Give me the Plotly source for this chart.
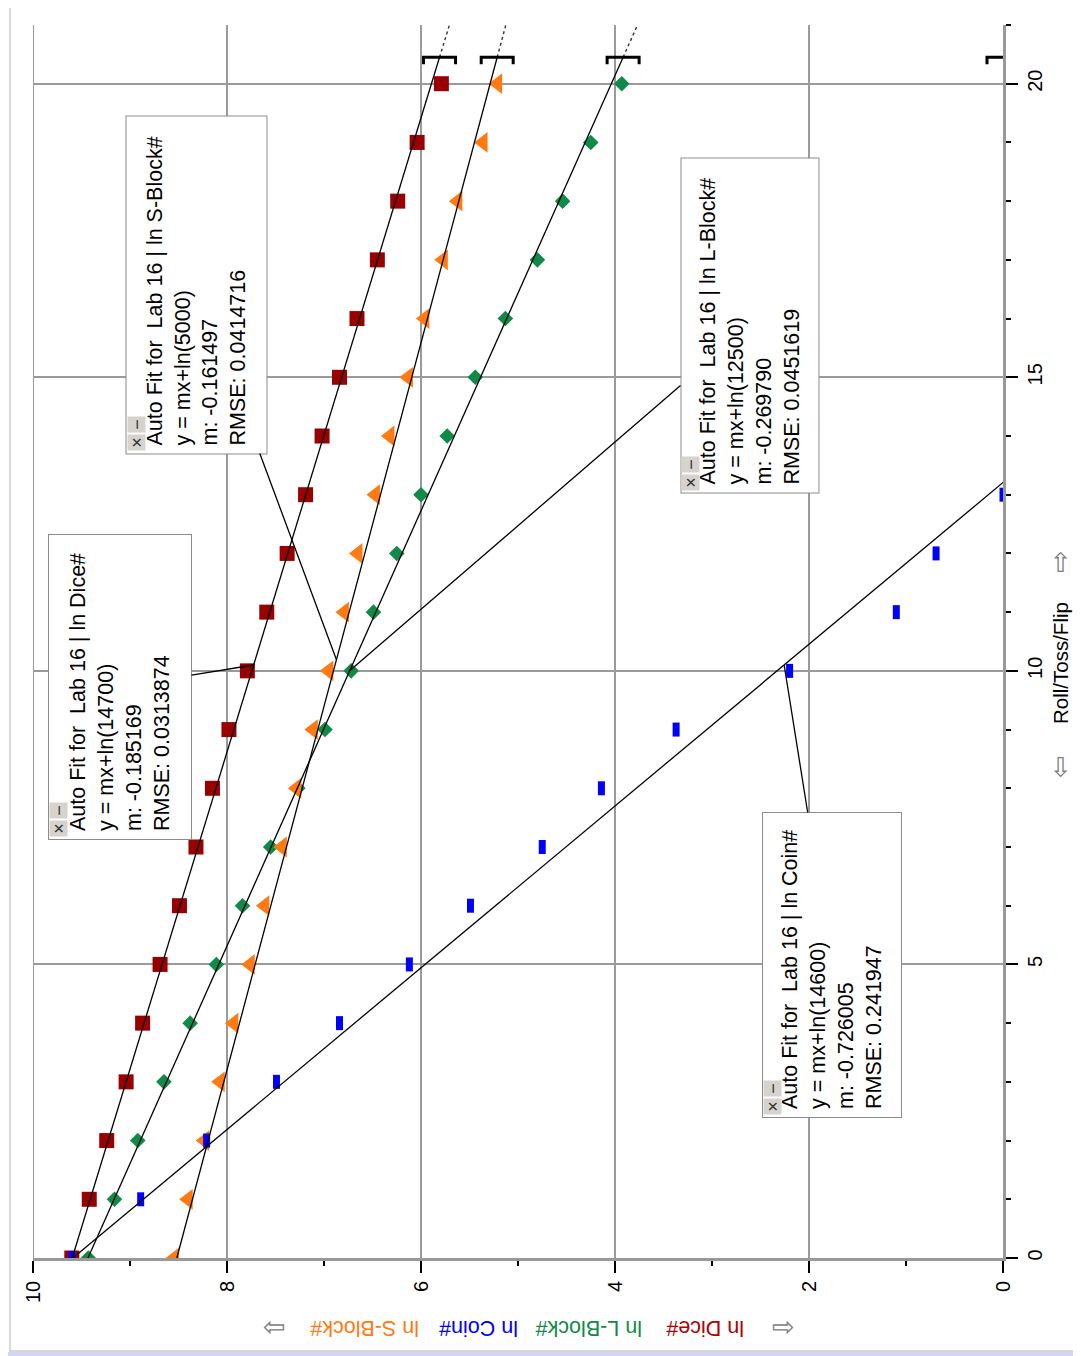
import math
import plotly.graph_objects as go

# ---------------- data ----------------
roll = list(range(21))
ln_dice = [9.60, 9.42, 9.24, 9.04, 8.87, 8.69, 8.49, 8.32, 8.15, 7.98, 7.79,
           7.59, 7.38, 7.19, 7.02, 6.84, 6.66, 6.45, 6.24, 6.04, 5.79]
ln_lblock = [9.43, 9.16, 8.92, 8.65, 8.38, 8.11, 7.84, 7.55, 7.27, 6.99, 6.72,
             6.49, 6.25, 6.00, 5.73, 5.44, 5.13, 4.80, 4.54, 4.25, 3.93]
ln_sblock = [8.54, 8.40, 8.23, 8.07, 7.93, 7.76, 7.61, 7.43, 7.28, 7.11, 6.95,
             6.79, 6.65, 6.47, 6.32, 6.13, 5.96, 5.77, 5.62, 5.36, 5.21]
roll_coin = list(range(14))
ln_coin = [9.60, 8.89, 8.21, 7.49, 6.84, 6.12, 5.49, 4.75, 4.14, 3.37, 2.20,
           1.10, 0.69, 0.00]

# Auto-fit results (order: Dice, S-Block, L-Block, Coin)
fit_names = ["ln Dice#", "ln S-Block#", "ln L-Block#", "ln Coin#"]
fit_m = [-0.185169, -0.161497, -0.269790, -0.726005]
fit_A = [14700, 5000, 12500, 14600]
fit_m_text = ["-0.185169", "-0.161497", "-0.269790", "-0.726005"]
fit_rmse = ["0.0313874", "0.0414716", "0.0451619", "0.241947"]
fit_end = 20.45
callout_roll = [10.1, 10.19, 10.0, 10.1]

x_ticks = [0, 2, 4, 6, 8, 10]
y_ticks = [0, 5, 10, 15, 20]

# ---------------- styling ----------------
FONT = "Liberation Sans, Arial, sans-serif"
C_DICE = "#990000"
C_L = "#108a48"
C_S = "#ff7a12"
C_COIN = "#0000ff"

OFF = 8                      # page body margin
W, H = 1081 - OFF, 1356 - OFF
PX0, PX1, PY0, PY1 = 33, 1003, 25, 1258   # plot area in screenshot pixels
ML, MT = PX0 - OFF, PY0 - OFF
MR, MB = W - (PX1 - OFF), H - (PY1 - OFF)
PW, PH = PX1 - PX0, PY1 - PY0
XR = [10, 0]
YR = [0, 21]


def px2paper_x(px):
    return (px - PX0) / PW


def py2paper_y(py):
    return (PY1 - py) / PH


def data2px(lnv, r):
    return (PX0 + (XR[0] - lnv) / (XR[0] - XR[1]) * PW,
            PY1 - (r - YR[0]) / (YR[1] - YR[0]) * PH)


fig = go.Figure()

# markers
fig.add_trace(go.Scatter(x=ln_dice, y=roll, mode="markers", name="ln Dice#",
                         marker=dict(symbol="square", size=15, color=C_DICE)))
fig.add_trace(go.Scatter(x=ln_lblock, y=roll, mode="markers", name="ln L-Block#",
                         marker=dict(symbol="diamond", size=12, color=C_L)))
fig.add_trace(go.Scatter(x=ln_sblock, y=roll, mode="markers", name="ln S-Block#",
                         marker=dict(symbol="triangle-left", size=18, color=C_S)))
fig.add_trace(go.Scatter(x=ln_coin, y=roll_coin, mode="markers", name="ln Coin#",
                         marker=dict(symbol="line-ns", size=10,
                                     line=dict(width=7, color=C_COIN))))

# fit lines: solid over the fit range, dotted beyond
for m, A in zip(fit_m, fit_A):
    b = math.log(A)
    fig.add_trace(go.Scatter(x=[b, b + m * fit_end], y=[0, fit_end], mode="lines",
                             line=dict(color="black", width=1.3), hoverinfo="skip"))
    fig.add_trace(go.Scatter(x=[b + m * fit_end, b + m * YR[1]], y=[fit_end, YR[1]],
                             mode="lines", line=dict(color="#333333", width=1.4, dash="dot"),
                             hoverinfo="skip"))

shapes = []
# range brackets at end of fit range
for m, A in zip(fit_m, fit_A):
    v = math.log(A) + m * fit_end
    v = min(max(v, 0.0), 10.0)
    shapes.append(dict(type="path", xref="x", yref="y", xsizemode="pixel", ysizemode="pixel",
                       xanchor=v, yanchor=fit_end,
                       path="M -16,-7 L -16,0 L 16,0 L 16,-7",
                       line=dict(color="black", width=3)))

# left edge line of plot (ln = 10 grid line, drawn as axis-like)
shapes.append(dict(type="line", xref="x", yref="paper", x0=10, x1=10, y0=0, y1=1,
                   line=dict(color="#999999", width=2)))

# outer window frame
shapes.append(dict(type="line", xref="paper", yref="paper",
                   x0=px2paper_x(10), x1=px2paper_x(10), y0=py2paper_y(0), y1=py2paper_y(1352),
                   line=dict(color="#cccccc", width=1.5)))
shapes.append(dict(type="line", xref="paper", yref="paper",
                   x0=px2paper_x(10), x1=px2paper_x(1076), y0=py2paper_y(1351), y1=py2paper_y(1351),
                   line=dict(color="#c8c8c8", width=1.5)))
shapes.append(dict(type="rect", xref="paper", yref="paper",
                   x0=px2paper_x(8), x1=px2paper_x(1081), y0=py2paper_y(1356), y1=py2paper_y(1352),
                   line=dict(width=0), fillcolor="#d4d4f4"))
shapes.append(dict(type="line", xref="paper", yref="paper",
                   x0=px2paper_x(1076), x1=px2paper_x(1076), y0=py2paper_y(8), y1=py2paper_y(1352),
                   line=dict(color="#50508a", width=2.5)))

annotations = []

# fit info boxes with callout lines
box_center = [(120, 687), (197, 284.5), (749.5, 326), (832, 965)]
box_size = [(144, 306), (142, 339), (139, 336), (140, 306)]
PAD = 8
for i in range(4):
    b = math.log(fit_A[i])
    r = callout_roll[i]
    v = b + fit_m[i] * r
    tx, ty = data2px(v, r)
    cx, cy = box_center[i]
    bw, bh = box_size[i]
    txt = ("Auto Fit for\u00a0\u00a0Lab 16 | " + fit_names[i] + "<br>"
           "y = mx+ln(" + str(fit_A[i]) + ")<br>"
           "m: " + fit_m_text[i] + "<br>"
           "RMSE: " + fit_rmse[i])
    annotations.append(dict(
        x=v, y=r, xref="x", yref="y", ax=cx - tx, ay=cy - ty,
        showarrow=True, arrowhead=0, arrowwidth=1.3, arrowcolor="black", standoff=0,
        text=txt, textangle=-90, align="left", valign="middle",
        width=bh - 2 * (PAD + 1), height=bw - 2 * (PAD + 1),
        bgcolor="white", bordercolor="#8c8c8c", borderwidth=1, borderpad=PAD,
        font=dict(family=FONT, size=21.5, color="black")))
    left = cx - bw / 2
    bottom = cy + bh / 2
    for sym, dy in (("\u2212", -29), ("\u00d7", -11)):
        annotations.append(dict(
            x=px2paper_x(left + 10.5), y=py2paper_y(bottom + dy), xref="paper", yref="paper",
            xanchor="center", yanchor="middle",
            showarrow=False, text=sym, textangle=-90, width=16, height=18,
            bgcolor="#d6d3ce", borderpad=0, borderwidth=0,
            font=dict(family=FONT, size=18, color="#333333")))

# y-variable label (upside-down, below plot)
ylab = [("\u21e8", 274, "#808080", 27), ("ln S-Block#", 365, C_S, 21.5),
        ("ln Coin#", 479, C_COIN, 21.5), ("ln L-Block#", 589, C_L, 21.5),
        ("ln Dice#", 705, "#b00000", 21.5), ("\u21e6", 783, "#808080", 27)]
for t, xpx, col, fs in ylab:
    annotations.append(dict(x=px2paper_x(xpx), y=py2paper_y(1328), xref="paper", yref="paper",
                            xanchor="center", yanchor="middle",
                            showarrow=False, text=t, textangle=180,
                            font=dict(family=FONT, size=fs, color=col)))

# x-variable label (right side)
xlab = [("\u21e6", 767, 27, "#808080"), ("Roll/Toss/Flip", 663, 20.5, "black"),
        ("\u21e8", 562, 27, "#808080")]
for t, ypx, fs, col in xlab:
    annotations.append(dict(x=px2paper_x(1060), y=py2paper_y(ypx), xref="paper", yref="paper",
                            xanchor="center", yanchor="middle",
                            showarrow=False, text=t, textangle=-90,
                            font=dict(family=FONT, size=fs, color=col)))

fig.update_layout(
    width=W, height=H,
    margin=dict(l=ML, r=MR, t=MT, b=MB, autoexpand=False),
    paper_bgcolor="white", plot_bgcolor="white",
    showlegend=False,
    shapes=shapes, annotations=annotations,
    font=dict(family=FONT, color="black"),
)
fig.update_xaxes(range=XR, tickvals=x_ticks, ticktext=[str(t) for t in x_ticks],
                 ticks="outside", ticklen=12, tickwidth=1.5, tickcolor="black",
                 tickangle=-90, tickfont=dict(family=FONT, size=20, color="black"),
                 showgrid=True, gridcolor="#9a9a9a", gridwidth=1.5,
                 showline=True, linecolor="#999999", linewidth=2.5,
                 zeroline=False,
                 minor=dict(dtick=1, ticks="outside", ticklen=5, tickwidth=1.5,
                            tickcolor="black", showgrid=False))
fig.update_yaxes(range=YR, tickvals=y_ticks, ticktext=[str(t) for t in y_ticks],
                 side="right",
                 ticks="outside", ticklen=12, tickwidth=1.5, tickcolor="black",
                 tickangle=-90, tickfont=dict(family=FONT, size=20, color="black"),
                 showgrid=True, gridcolor="#9a9a9a", gridwidth=1.5,
                 showline=True, linecolor="#999999", linewidth=2.5,
                 zeroline=False,
                 minor=dict(dtick=1, ticks="outside", ticklen=5, tickwidth=1.5,
                            tickcolor="black", showgrid=False))

fig.write_html("out.html")
